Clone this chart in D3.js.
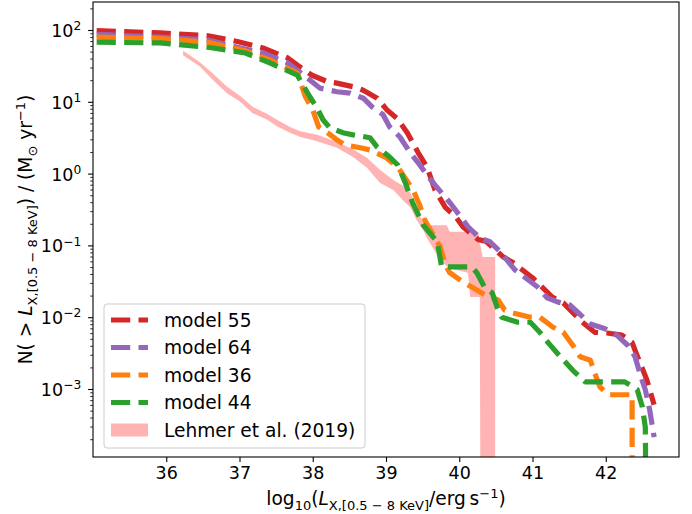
<!DOCTYPE html>
<html>
<head>
<meta charset="utf-8">
<script src="https://cdn.jsdelivr.net/npm/d3@7"></script>
<style>
  body { margin: 0; background: #fff; }
  text { font-family: "DejaVu Sans", sans-serif; fill: #000; }
</style>
</head>
<body>
<svg id="chart" width="692" height="514"></svg>
<script>
// Cumulative X-ray luminosity functions: log10 L (erg/s) against log10 N(>L)
// A null value means N has dropped to zero (the curve falls off the log axis).

const x55 = [35.05, 35.92, 36.57, 36.97, 37.32, 37.66, 37.79, 37.99, 38.20, 38.33, 38.55, 38.69, 38.88, 39.01, 39.15, 39.29, 39.44, 39.56, 39.67, 39.81, 39.95, 40.05, 40.26, 40.36, 40.60, 40.72, 41.00, 41.27, 41.42, 41.68, 41.85, 42.02, 42.22, 42.36, 42.40, 42.47, 42.56, 42.66];
const n55 = [1.99, 1.96, 1.92, 1.84, 1.75, 1.61, 1.51, 1.37, 1.28, 1.26, 1.21, 1.16, 1.05, 0.89, 0.77, 0.57, 0.29, 0.09, -0.23, -0.47, -0.60, -0.74, -0.92, -0.94, -1.16, -1.23, -1.45, -1.72, -1.80, -2.07, -2.21, -2.22, -2.25, -2.35, -2.46, -2.64, -2.87, -3.22];

const x64 = [35.05, 35.92, 36.57, 36.97, 37.32, 37.66, 37.79, 37.99, 38.10, 38.33, 38.51, 38.69, 38.81, 38.96, 39.05, 39.19, 39.33, 39.44, 39.56, 39.67, 39.90, 40.12, 40.28, 40.42, 40.56, 40.76, 41.07, 41.20, 41.35, 41.51, 41.69, 41.78, 41.99, 42.15, 42.30, 42.40, 42.48, 42.54, 42.60, 42.66];
const n64 = [1.94, 1.90, 1.86, 1.76, 1.68, 1.54, 1.44, 1.28, 1.19, 1.14, 1.12, 1.05, 0.93, 0.82, 0.65, 0.51, 0.29, 0.15, -0.02, -0.16, -0.44, -0.74, -0.90, -0.95, -1.09, -1.34, -1.58, -1.73, -1.79, -1.83, -2.00, -2.09, -2.16, -2.25, -2.39, -2.55, -2.83, -3.01, -3.29, -3.67];

const x36 = [35.05, 35.92, 36.57, 37.08, 37.42, 37.79, 37.90, 38.00, 38.08, 38.20, 38.33, 38.44, 38.65, 38.78, 38.99, 39.16, 39.26, 39.37, 39.46, 39.53, 39.74, 39.81, 39.87, 40.05, 40.17, 40.35, 40.53, 40.62, 40.73, 40.97, 41.10, 41.28, 41.42, 41.55, 41.65, 41.79, 41.85, 41.92, 42.03, 42.36, 42.36];
const n36 = [1.90, 1.88, 1.83, 1.71, 1.58, 1.40, 1.07, 0.89, 0.65, 0.57, 0.47, 0.40, 0.36, 0.33, 0.23, 0.09, -0.06, -0.23, -0.44, -0.65, -1.02, -1.27, -1.38, -1.51, -1.58, -1.69, -1.76, -1.90, -1.94, -2.00, -2.00, -2.14, -2.21, -2.39, -2.55, -2.60, -2.78, -2.97, -3.08, -3.08, null];

const x44 = [35.05, 35.92, 36.57, 37.08, 37.42, 37.79, 37.96, 38.05, 38.14, 38.23, 38.41, 38.55, 38.78, 38.88, 39.05, 39.16, 39.26, 39.36, 39.51, 39.70, 39.76, 40.17, 40.24, 40.35, 40.45, 40.52, 40.58, 40.80, 40.97, 41.10, 41.21, 41.38, 41.55, 41.72, 42.26, 42.43, 42.50, 42.54, 42.55];
const n44 = [1.83, 1.82, 1.76, 1.68, 1.54, 1.37, 1.07, 0.93, 0.75, 0.64, 0.57, 0.54, 0.50, 0.37, 0.23, 0.12, -0.12, -0.40, -0.72, -0.95, -1.30, -1.30, -1.38, -1.59, -1.66, -1.87, -2.00, -2.07, -2.07, -2.21, -2.35, -2.55, -2.74, -2.90, -2.90, -3.01, -3.25, -3.53, null];

// Observed band (Lehmer et al. 2019): lower and upper log10 N
const lehX  = [36.23, 36.46, 36.64, 36.83, 37.01, 37.18, 37.38, 37.51, 37.69, 37.83, 38.06, 38.33, 38.55, 38.74, 38.92, 39.10, 39.23, 39.33, 39.42, 39.51, 39.56, 39.74, 39.83, 39.87, 40.12, 40.15, 40.26, 40.28, 40.29, 40.32, 40.49];
const lehHi = [1.71, 1.55, 1.39, 1.21, 1.08, 0.93, 0.83, 0.75, 0.65, 0.59, 0.54, 0.44, 0.34, 0.22, 0.05, -0.09, -0.17, -0.26, -0.48, -0.70, -0.72, -0.72, -0.72, -0.81, -0.81, -0.81, -0.81, -0.99, -1.00, -1.16, -1.16];
const lehLo = [1.65, 1.49, 1.30, 1.12, 1.00, 0.84, 0.75, 0.66, 0.57, 0.51, 0.45, 0.36, 0.23, 0.08, -0.13, -0.23, -0.37, -0.47, -0.65, -0.79, -0.90, -1.20, -1.29, -1.32, -1.38, -1.72, -1.72, -1.72, null, null, null];

const seriesNames  = ["model 55", "model 64", "model 36", "model 44"];
const seriesColors = ["#d62728", "#9467bd", "#ff7f0e", "#2ca02c"];
const seriesX = [x55, x64, x36, x44];
const seriesN = [n55, n64, n36, n44];
const bandName = "Lehmer et al. (2019)";
const bandColor = "#ffb3b3";

const xTicks = [36, 37, 38, 39, 40, 41, 42];
const yTickExp = [-3, -2, -1, 0, 1, 2];

// ---- layout ----
const FS_TICK = 17.5, FS_TICK_SUP = 12.25;
const FS = 18.6, FS_SMALL = 13;
const plot = { left: 93, top: 2, right: 679, bottom: 457 };
const svg = d3.select("#chart");

const x = d3.scaleLinear().domain([35, 43]).range([plot.left, plot.right]);
const y = d3.scaleLog().domain([Math.pow(10, -3.947), Math.pow(10, 2.39)]).range([plot.bottom, plot.top]);
const yOf = v => v === null ? plot.bottom + 60 : y(Math.pow(10, v));

svg.append("defs").append("clipPath").attr("id", "plotclip")
  .append("rect")
  .attr("x", plot.left).attr("y", plot.top)
  .attr("width", plot.right - plot.left).attr("height", plot.bottom - plot.top);

const body = svg.append("g").attr("clip-path", "url(#plotclip)");

// observed band
const band = lehX.map((v, i) => [v, lehLo[i], lehHi[i]]);
body.append("path")
  .datum(band)
  .attr("fill", bandColor)
  .attr("stroke", "none")
  .attr("d", d3.area().x(d => x(d[0])).y0(d => yOf(d[1])).y1(d => yOf(d[2])));

// model curves
const DASH = "19.2,8.3", LW = 5.2;
const line = d3.line().x(d => x(d[0])).y(d => yOf(d[1]));
seriesX.forEach((xs, k) => {
  const pts = xs.map((v, i) => [v, seriesN[k][i]]);
  body.append("path")
    .datum(pts)
    .attr("fill", "none")
    .attr("stroke", seriesColors[k])
    .attr("stroke-width", LW)
    .attr("stroke-dasharray", DASH)
    .attr("stroke-linecap", "butt")
    .attr("stroke-linejoin", "round")
    .attr("d", line);
});

// ---- axes ----
const TICK = 4.9, PAD = 4.9;
const gx = svg.append("g").attr("transform", `translate(0,${plot.bottom})`)
  .call(d3.axisBottom(x).tickValues(xTicks).tickSize(TICK).tickPadding(PAD).tickFormat(d3.format("d")));
gx.select(".domain").remove();
gx.selectAll(".tick line").attr("stroke", "#000").attr("stroke-width", 1.1);
gx.selectAll(".tick text").attr("font-size", FS_TICK).attr("font-family", "DejaVu Sans").attr("fill", "#000");

const gy = svg.append("g").attr("transform", `translate(${plot.left},0)`)
  .call(d3.axisLeft(y).tickValues(yTickExp.map(e => Math.pow(10, e))).tickSize(TICK).tickPadding(PAD));
gy.select(".domain").remove();
gy.selectAll(".tick line").attr("stroke", "#000").attr("stroke-width", 1.1);
gy.selectAll(".tick text").each(function(d) {
  const t = d3.select(this);
  const e = Math.round(Math.log10(d));
  t.text(null).attr("font-size", FS_TICK).attr("font-family", "DejaVu Sans").attr("fill", "#000")
    .attr("x", -(TICK + PAD + 2)).attr("dy", null).attr("y", 6.5);
  t.append("tspan").text("10");
  t.append("tspan").attr("font-size", FS_TICK_SUP).attr("dy", -6.8)
    .text(e < 0 ? "\u2212" + Math.abs(e) : String(e));
});

// minor log ticks
const minor = [];
for (let e = -4; e <= 2; e++) for (let m = 2; m <= 9; m++) {
  const v = m * Math.pow(10, e);
  if (v >= y.domain()[0] && v <= y.domain()[1]) minor.push(v);
}
const gym = svg.append("g").attr("transform", `translate(${plot.left},0)`)
  .call(d3.axisLeft(y).tickValues(minor).tickSize(2.8).tickFormat(""));
gym.select(".domain").remove();
gym.selectAll(".tick line").attr("stroke", "#000").attr("stroke-width", 0.8);

// frame
svg.append("rect")
  .attr("x", plot.left).attr("y", plot.top)
  .attr("width", plot.right - plot.left).attr("height", plot.bottom - plot.top)
  .attr("fill", "none").attr("stroke", "#000").attr("stroke-width", 1.1);

// ---- axis titles ----
function addSub(t, s, dy) { t.append("tspan").attr("font-size", FS_SMALL).attr("dy", dy).text(s); }
const xl = svg.append("text").attr("x", (plot.left + plot.right) / 2).attr("y", 505)
  .attr("text-anchor", "middle").attr("font-size", FS);
xl.append("tspan").text("log");
addSub(xl, "10", 4.5);
xl.append("tspan").attr("dy", -4.5).text("(");
xl.append("tspan").attr("font-style", "italic").text("L");
addSub(xl, "X,[0.5 \u2212 8 KeV]", 4.5);
xl.append("tspan").attr("dy", -4.5).text("/erg\u2009s");
addSub(xl, "\u22121", -7.5);
xl.append("tspan").attr("dy", 7.5).text(")");

const yl = svg.append("text")
  .attr("transform", `translate(32,${(plot.top + plot.bottom) / 2}) rotate(-90)`)
  .attr("text-anchor", "middle").attr("font-size", FS);
yl.append("tspan").text("N( > ");
yl.append("tspan").attr("font-style", "italic").text("L");
addSub(yl, "X,[0.5 \u2212 8 KeV]", 4.5);
yl.append("tspan").attr("dy", -4.5).text(") / (M");
addSub(yl, "\u2299", 4.5);
yl.append("tspan").attr("dy", -4.5).text(" yr");
addSub(yl, "\u22121", -7.5);
yl.append("tspan").attr("dy", 7.5).text(")");

// ---- legend ----
const lg = svg.append("g");
lg.append("rect").attr("x", 104).attr("y", 304).attr("width", 261).attr("height", 144)
  .attr("rx", 3).attr("fill", "#fff").attr("fill-opacity", 0.8)
  .attr("stroke", "#cccccc").attr("stroke-width", 1);
const rowY = [320, 347.5, 375, 402.5, 430];
seriesNames.forEach((name, k) => {
  lg.append("line").attr("x1", 111).attr("x2", 148).attr("y1", rowY[k]).attr("y2", rowY[k])
    .attr("stroke", seriesColors[k]).attr("stroke-width", LW).attr("stroke-dasharray", DASH);
  lg.append("text").attr("x", 164).attr("y", rowY[k] + 6.6).attr("font-size", FS).text(name);
});
lg.append("rect").attr("x", 111).attr("y", rowY[4] - 6.5).attr("width", 37).attr("height", 13).attr("fill", bandColor);
lg.append("text").attr("x", 164).attr("y", rowY[4] + 6.6).attr("font-size", FS).text(bandName);
</script>
</body>
</html>
